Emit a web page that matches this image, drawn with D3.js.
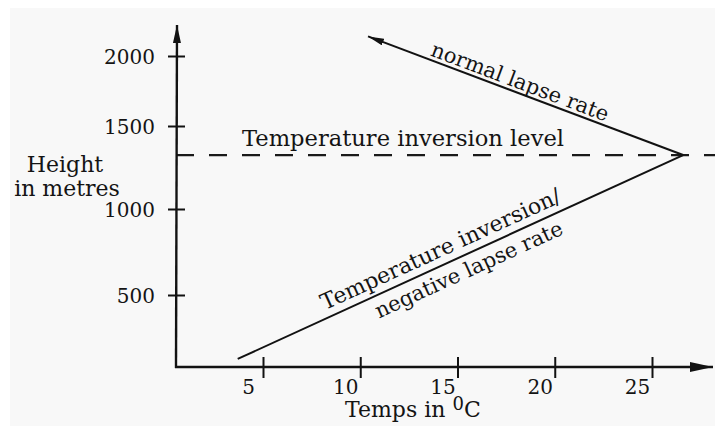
<!DOCTYPE html>
<html><head><meta charset="utf-8">
<script src="https://cdn.jsdelivr.net/npm/d3@7"></script>
<style>
body{margin:0;background:#fff}
svg{display:block}
text{font-family:"DejaVu Serif",serif;fill:#141414}
</style>
</head><body>
<svg id="c" width="715" height="426"></svg>
<script>
// ---- data ----
const yTicks = [500, 1000, 1500, 2000];
const xTicks = [5, 10, 15, 20, 25];
const inversionLevel = 1325;
const normalLapse = [{temp: 26.6, height: 1325}, {temp: 10.4, height: 2140}];
const negativeLapse = [{temp: 3.7, height: 56}, {temp: 26.6, height: 1325}];
const yTitle = ["Height", "in metres"];
const xTitle = ["Temps in ", "0", "C"];
const levelLabel = "Temperature inversion level";
const normalLabel = "normal lapse rate";
const negLabel1 = "Temperature inversion/";
const negLabel2 = "negative lapse rate";

// ---- chart ----
const W = 715, H = 426;
const svg = d3.select("#c");
svg.append("rect").attr("x", 10).attr("y", 8).attr("width", W - 10).attr("height", H - 8).attr("fill", "#f8f8f8");

const x = d3.scaleLinear().domain([5, 25]).range([263, 652]);
const y = d3.scaleLinear().domain([0, 500, 1000, 1500, 2000]).range([367, 295, 209, 126, 56]);
const ox = 176, oy = 367;
const ink = "#121212";

const defs = svg.append("defs");
function marker(id, len, half) {
  defs.append("marker").attr("id", id)
    .attr("markerUnits", "userSpaceOnUse")
    .attr("viewBox", `0 ${-half} ${len} ${half * 2}`)
    .attr("refX", len).attr("refY", 0)
    .attr("markerWidth", len).attr("markerHeight", half * 2)
    .attr("orient", "auto")
    .append("path").attr("d", `M0,${-half}L${len},0L0,${half}Z`).attr("fill", ink);
}
marker("ay", 18, 4);
marker("ax", 23, 5);
marker("al", 16, 3.5);

// dashed inversion level
svg.append("line")
  .attr("x1", ox).attr("x2", W)
  .attr("y1", y(inversionLevel)).attr("y2", y(inversionLevel))
  .attr("stroke", "#1a1a1a").attr("stroke-width", 2.2).attr("stroke-dasharray", "18,15");

// axes lines with arrows
svg.append("line").attr("x1", ox).attr("y1", oy + 1).attr("x2", ox + 1).attr("y2", 25)
  .attr("stroke", ink).attr("stroke-width", 2.4).attr("marker-end", "url(#ay)");
svg.append("line").attr("x1", ox - 1).attr("y1", oy).attr("x2", 713).attr("y2", oy)
  .attr("stroke", ink).attr("stroke-width", 2.4).attr("marker-end", "url(#ax)");

// y axis ticks
const gy = svg.append("g").attr("transform", `translate(${ox},0)`)
  .call(d3.axisLeft(y).tickValues(yTicks).tickFormat(d3.format("d")).tickSizeOuter(0));
gy.select(".domain").remove();
gy.selectAll(".tick line").attr("x1", -8).attr("x2", 9).attr("stroke", ink).attr("stroke-width", 2);
gy.selectAll(".tick text").attr("x", -21).attr("dy", "0.36em")
  .style("font-family", "DejaVu Serif").style("font-size", "20px").attr("fill", "#141414");

// x axis ticks
const gx = svg.append("g").attr("transform", `translate(0,${oy})`)
  .call(d3.axisBottom(x).tickValues(xTicks).tickFormat(d3.format("d")).tickSizeOuter(0));
gx.select(".domain").remove();
gx.selectAll(".tick line").attr("y1", -10).attr("y2", 11).attr("stroke", ink).attr("stroke-width", 2);
gx.selectAll(".tick text").attr("x", -15).attr("y", 27).attr("dy", 0)
  .style("font-family", "DejaVu Serif").style("font-size", "20px").attr("fill", "#141414");

// lapse rate lines
const lineGen = d3.line().x(d => x(d.temp)).y(d => y(d.height));
svg.append("path").datum(normalLapse).attr("d", lineGen)
  .attr("fill", "none").attr("stroke", ink).attr("stroke-width", 2).attr("marker-end", "url(#al)");
svg.append("path").datum(negativeLapse).attr("d", lineGen)
  .attr("fill", "none").attr("stroke", ink).attr("stroke-width", 2);

// axis titles
svg.append("text").attr("x", 65).attr("y", 172).attr("text-anchor", "middle").style("font-size", "22px").text(yTitle[0]);
svg.append("text").attr("x", 67).attr("y", 196).attr("text-anchor", "middle").style("font-size", "22px").text(yTitle[1]);
const xt = svg.append("text").attr("x", 345).attr("y", 417).style("font-size", "22px");
xt.append("tspan").text(xTitle[0]);
xt.append("tspan").attr("dy", -7).style("font-size", "18px").text(xTitle[1]);
xt.append("tspan").attr("dy", 7).text(xTitle[2]);

// level label
svg.append("text").attr("x", 242).attr("y", 146).style("font-size", "22px")
  .attr("textLength", 322).attr("lengthAdjust", "spacingAndGlyphs").text(levelLabel);

// labels along lines
function along(pts, s, off, label, size) {
  const [a, b] = pts;
  const x1 = x(a.temp), y1 = y(a.height), x2 = x(b.temp), y2 = y(b.height);
  let ang = Math.atan2(y2 - y1, x2 - x1) * 180 / Math.PI;
  let px = x1 + (x2 - x1) * s, py = y1 + (y2 - y1) * s;
  if (ang > 90 || ang < -90) ang += 180;
  svg.append("text").attr("transform", `translate(${px},${py}) rotate(${ang})`)
    .attr("text-anchor", "middle").attr("dy", off).style("font-size", size + "px").text(label);
}
along(normalLapse, 0.53, -4, normalLabel, 21);
along(negativeLapse, 0.47, -8, negLabel1, 22);
along(negativeLapse, 0.505, 22, negLabel2, 21);
</script>
</body></html>
